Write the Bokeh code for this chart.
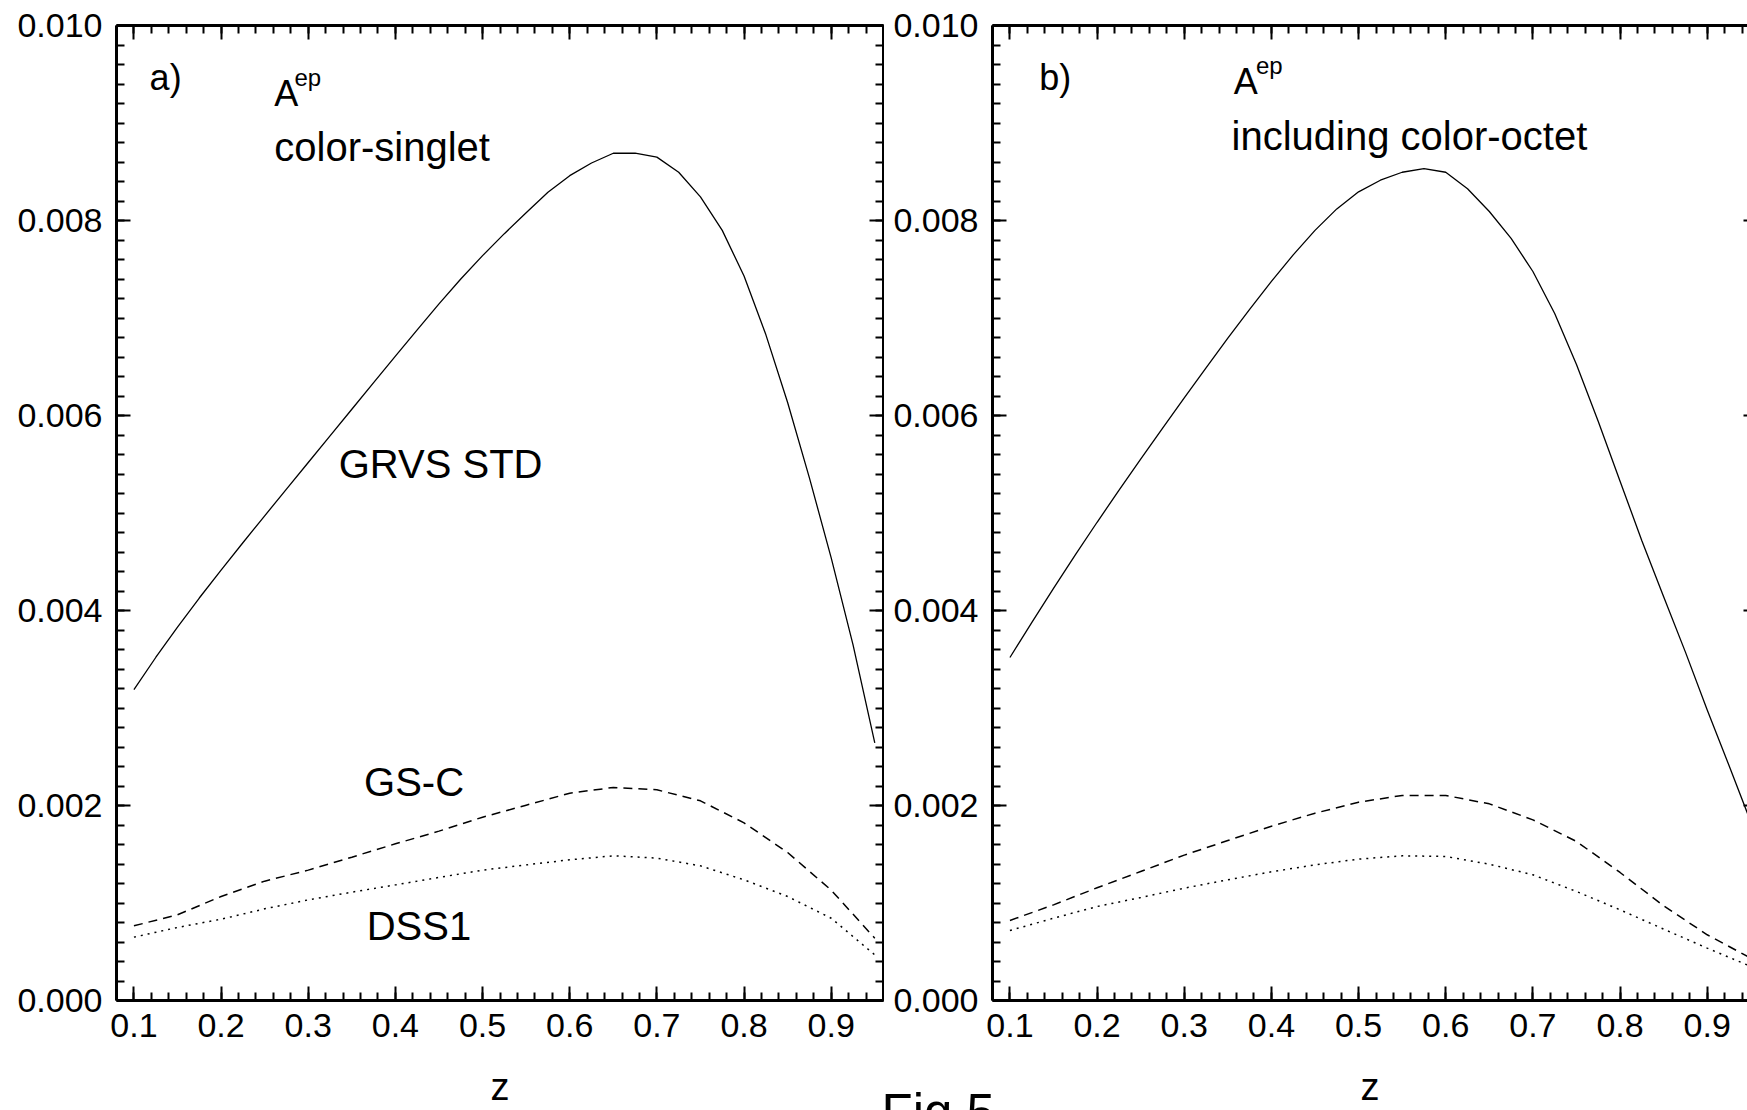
from bokeh.plotting import figure
from bokeh.models import LinearAxis, FixedTicker, PrintfTickFormatter, Label, Range1d, Title
from bokeh.layouts import row
from bokeh.embed import file_html
from bokeh.resources import INLINE

# ---------------- data ----------------
z_fine = [0.100, 0.125, 0.150, 0.175, 0.200, 0.225, 0.250, 0.275, 0.300,
          0.325, 0.350, 0.375, 0.400, 0.425, 0.450, 0.475, 0.500, 0.525,
          0.550, 0.575, 0.600, 0.625, 0.650, 0.675, 0.700, 0.725, 0.750,
          0.775, 0.800, 0.825, 0.850, 0.875, 0.900, 0.925, 0.950]

# panel a) color-singlet, GRVS STD (solid)
grvs_singlet = [0.003188, 0.003518, 0.003830, 0.004128, 0.004415, 0.004695,
                0.004971, 0.005245, 0.005518, 0.005791, 0.006064, 0.006337,
                0.006609, 0.006879, 0.007145, 0.007400, 0.007640, 0.007865,
                0.008080, 0.008290, 0.008460, 0.008590, 0.008690, 0.008690,
                0.008650, 0.008495, 0.008243, 0.007899, 0.007430, 0.006830,
                0.006133, 0.005360, 0.004540, 0.003650, 0.002642]

# panel b) including color-octet, GRVS STD (solid)
grvs_octet = [0.003518, 0.003876, 0.004227, 0.004570, 0.004905, 0.005232,
              0.005552, 0.005869, 0.006181, 0.006489, 0.006794, 0.007089,
              0.007375, 0.007647, 0.007899, 0.008119, 0.008294, 0.008413,
              0.008495, 0.008532, 0.008495, 0.008326, 0.008092, 0.007817,
              0.007477, 0.007046, 0.006523, 0.005938, 0.005326, 0.004716,
              0.004142, 0.003573, 0.002980, 0.002410, 0.001830]

z_coarse = [0.10, 0.15, 0.20, 0.25, 0.30, 0.35, 0.40, 0.45, 0.50,
            0.55, 0.60, 0.65, 0.70, 0.75, 0.80, 0.85, 0.90, 0.95]

gsc_singlet = [0.000766, 0.000879, 0.001067, 0.001224, 0.001337, 0.001470,
               0.001607, 0.001737, 0.001880, 0.002003, 0.002126, 0.002185,
               0.002161, 0.002048, 0.001822, 0.001518, 0.001132, 0.000639]
dss1_singlet = [0.000650, 0.000749, 0.000834, 0.000940, 0.001032, 0.001111,
                0.001186, 0.001262, 0.001337, 0.001391, 0.001443, 0.001484,
                0.001460, 0.001381, 0.001238, 0.001067, 0.000844, 0.000468]

gsc_octet = [0.000821, 0.000981, 0.001156, 0.001323, 0.001491, 0.001641,
             0.001788, 0.001921, 0.002034, 0.002103, 0.002103, 0.002017,
             0.001853, 0.001631, 0.001313, 0.000971, 0.000674, 0.000434]
dss1_octet = [0.000718, 0.000844, 0.000964, 0.001056, 0.001152, 0.001238,
              0.001320, 0.001391, 0.001450, 0.001484, 0.001477, 0.001398,
              0.001289, 0.001118, 0.000930, 0.000732, 0.000537, 0.000349]

x_tick_values = [0.1, 0.2, 0.3, 0.4, 0.5, 0.6, 0.7, 0.8, 0.9]
y_tick_values = [0.000, 0.002, 0.004, 0.006, 0.008, 0.010]

# ---------------- styling ----------------
FONT = "Liberation Sans"
X_START = 0.08
X_MINOR = [round(0.08 + 0.02 * i, 2) for i in range(45)]
Y_MINOR = [round(0.0002 * i, 4) for i in range(51)]


def style_axis(ax, show_labels, line=True, major_in=14, minor_in=8):
    ax.axis_line_color = "black" if line else None
    ax.axis_line_width = 3
    ax.major_tick_in = major_in
    ax.major_tick_out = 0
    ax.minor_tick_in = minor_in
    ax.minor_tick_out = 0
    ax.major_tick_line_width = 2
    ax.minor_tick_line_width = 2
    ax.major_tick_line_color = "black"
    ax.minor_tick_line_color = "black" if minor_in > 0 else None
    if show_labels:
        ax.major_label_text_font = FONT
        ax.major_label_text_font_size = "34px"
        ax.major_label_text_color = "black"
    else:
        ax.major_label_text_font_size = "0px"
        ax.major_label_standoff = 0


def make_panel(width, x_end, min_left, min_right, right_frame):
    p = figure(width=width, height=1110,
               x_range=Range1d(X_START, x_end), y_range=Range1d(0.0, 0.010),
               output_backend="svg", toolbar_location=None,
               x_axis_location=None, y_axis_location=None,
               min_border_left=min_left, min_border_right=min_right,
               min_border_top=25, min_border_bottom=109)
    p.grid.visible = False
    p.outline_line_color = None
    p.background_fill_color = "white"
    p.border_fill_color = "white"

    xt = FixedTicker(ticks=x_tick_values, minor_ticks=X_MINOR)
    yt = FixedTicker(ticks=y_tick_values, minor_ticks=Y_MINOR)

    xb = LinearAxis(ticker=xt, formatter=PrintfTickFormatter(format="%.1f"),
                    axis_label="z")
    style_axis(xb, True)
    xb.major_label_standoff = 13
    xb.axis_label_text_font = FONT
    xb.axis_label_text_font_size = "38px"
    xb.axis_label_text_font_style = "normal"
    xb.axis_label_text_color = "black"
    xb.axis_label_standoff = 26
    p.add_layout(xb, "below")

    xa = LinearAxis(ticker=xt)
    style_axis(xa, False)
    p.add_layout(xa, "above")

    yl = LinearAxis(ticker=yt, formatter=PrintfTickFormatter(format="%.3f"))
    style_axis(yl, True)
    yl.major_label_standoff = 14
    p.add_layout(yl, "left")

    if right_frame:
        yr = LinearAxis(ticker=yt)
        style_axis(yr, False)
    else:
        # the frame's right edge lies just outside the picture: only the
        # tips of the long ticks are visible
        yr = LinearAxis(ticker=FixedTicker(ticks=y_tick_values))
        style_axis(yr, False, line=False, major_in=4, minor_in=0)
    p.add_layout(yr, "right")
    return p


def add_text(p, x, y, s, size, align="left"):
    p.add_layout(Label(x=x, y=y, text=s, text_font=FONT, text_font_size=size,
                       text_color="black", text_align=align,
                       text_baseline="alphabetic"))


# ---------------- panel a) ----------------
pa = make_panel(884, 0.96, 116, 1, True)
pa.line(z_fine, grvs_singlet, line_color="black", line_width=1.3)
pa.line(z_coarse, gsc_singlet, line_color="black", line_width=1.5, line_dash="9 6")
pa.line(z_coarse, dss1_singlet, line_color="black", line_width=1.5, line_dash="2 5")
add_text(pa, 0.118, 0.00947, "a)", "36px")
add_text(pa, 0.261, 0.00930, "A", "36px")
add_text(pa, 0.2842, 0.00947, "ep", "24px")
add_text(pa, 0.261, 0.008757, "color-singlet", "40px")
add_text(pa, 0.335, 0.00550, "GRVS STD", "40px")
add_text(pa, 0.364, 0.00224, "GS-C", "40px")
add_text(pa, 0.367, 0.00076, "DSS1", "40px")

# ---------------- panel b) ----------------
pb = make_panel(863, 0.9462, 108, 0, False)
pb.line(z_fine, grvs_octet, line_color="black", line_width=1.3)
pb.line(z_coarse, gsc_octet, line_color="black", line_width=1.5, line_dash="9 6")
pb.line(z_coarse, dss1_octet, line_color="black", line_width=1.5, line_dash="2 5")
add_text(pb, 0.1336, 0.00947, "b)", "36px")
add_text(pb, 0.3568, 0.009423, "A", "36px")
add_text(pb, 0.3823, 0.009594, "ep", "24px")
add_text(pb, 0.3542, 0.008867, "including color-octet", "40px")

# figure caption in the lower margin, partly below the picture's lower edge
# (as in the reference); the negative standoff keeps it from taking space
caption = Title(text="Fig.5", align="left", vertical_align="bottom",
                offset=-111, standoff=-60, text_font=FONT,
                text_font_size="51px", text_font_style="normal",
                text_color="black")
pb.add_layout(caption, "below")

layout = row(pa, pb, spacing=0)
open("out.html", "w").write(file_html(layout, INLINE))
